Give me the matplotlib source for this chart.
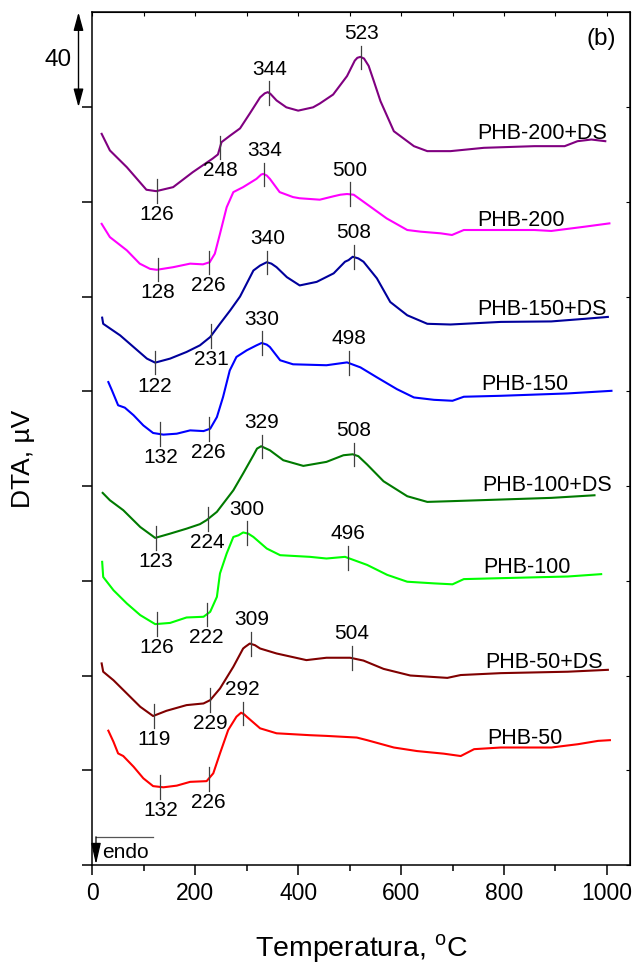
import numpy as np
import matplotlib.pyplot as plt

plt.rcParams['font.family'] = ['Liberation Sans', 'DejaVu Sans']
plt.rcParams['mathtext.fontset'] = 'custom'
plt.rcParams['mathtext.rm'] = 'Liberation Sans'

# DTA curves, temperature (C) and stacked signal (uV)
t_200ds = [18, 34, 67, 105, 124, 157, 195, 234, 244, 251, 268, 287, 306, 326, 335, 341, 346, 358, 377,
           400, 429, 442, 468, 495, 510, 515, 521, 528, 537, 547, 560, 586, 625, 651, 696, 761, 859,
           918, 943, 970, 997]
dta_200ds = [308.7, 301.7, 294.6, 285.1, 284.5, 286.2, 292.5, 298.3, 300, 305.2, 308, 311, 317.3, 324.1,
             325.8, 326.3, 325.6, 322.8, 319.9, 318.5, 319.9, 321.5, 325.3, 333.1, 339.6, 340.8, 341.2,
             340.5, 337.4, 331, 322.5, 309.8, 303.5, 301.4, 301.4, 302.8, 303.5, 303.5, 305.6, 306.3,
             305.6]

t_200 = [18, 34, 67, 92, 112, 125, 157, 190, 215, 228, 238, 248, 261, 274, 293, 319, 328, 332, 339, 345,
         364, 390, 403, 442, 468, 482, 495, 508, 540, 572, 612, 638, 677, 699, 722, 768, 859, 892, 957,
         1005]
dta_200 = [270.7, 265.1, 259.5, 253.9, 251.7, 251.3, 252.4, 253.9, 253.6, 254.5, 258.1, 266.5, 277.7,
           284.1, 286.2, 289.7, 291.5, 291.8, 291.1, 289.7, 284.1, 282, 281.5, 280.9, 282.3, 283, 283.3,
           283, 278, 273, 268.1, 267.4, 266.7, 266, 268.1, 268.1, 268.1, 267.7, 269.5, 270.9]

t_150ds = [19, 21, 54, 80, 106, 122, 151, 183, 209, 229, 248, 268, 287, 313, 326, 339, 348, 358, 378,
           403, 436, 469, 491, 498, 506, 517, 527, 553, 579, 612, 651, 696, 794, 892, 957, 1002]
dta_150ds = [231.1, 228.5, 223.6, 218.7, 213.8, 212.1, 213.8, 216.6, 219.4, 222.9, 228.5, 234.2, 240,
             251, 253.1, 254.5, 253.9, 252.4, 248.2, 244.7, 246.2, 249.8, 254.7, 255.4, 256.8, 256.1,
             254.7, 247.7, 237.7, 232.1, 228.5, 228.2, 229.3, 229.5, 230.6, 231.4]

t_150 = [31, 38, 50, 63, 80, 99, 118, 138, 164, 190, 216, 229, 242, 254, 267, 280, 300, 319, 329, 339,
         345, 365, 390, 455, 495, 521, 553, 592, 625, 664, 700, 722, 794, 924, 1009]
dta_150 = [203.9, 200.4, 194.1, 193.1, 189.9, 185.6, 182.4, 181.7, 182.1, 183.5, 183.2, 184.2, 189.1,
           197.6, 208.8, 214.5, 217.3, 219.4, 220.4, 219.7, 218.7, 213.1, 211.4, 211, 212.2, 210.1,
           205.9, 200.9, 197.4, 196.4, 196, 197.7, 198.1, 199.1, 200.2]

t_100ds = [20, 34, 60, 93, 122, 151, 183, 209, 222, 242, 274, 293, 313, 320, 328, 335, 345, 371, 410,
           455, 488, 506, 517, 534, 566, 612, 651, 696, 794, 892, 976]
dta_100ds = [157.1, 154, 149.8, 142.7, 138.1, 139.9, 142, 143.9, 145.6, 149.1, 158.2, 165.3, 173, 175.8,
             176.8, 176.1, 175.1, 170.9, 168.5, 170.2, 173, 173.4, 172.6, 169.1, 162, 155.7, 153.3,
             153.6, 154.3, 155, 156.1]

t_100 = [19, 21, 41, 67, 93, 122, 151, 183, 216, 229, 242, 248, 261, 274, 284, 293, 303, 313, 339, 365,
         423, 455, 491, 534, 573, 612, 664, 700, 722, 794, 924, 989]
dta_100 = [128, 121.6, 116, 110.4, 105.5, 101.7, 102.2, 104.5, 104.8, 106.9, 113.2, 123.1, 131.5,
           138.5, 139.2, 140.4, 139.9, 138.5, 133.6, 130.8, 130.1, 129.4, 130.1, 126.7, 122.5, 119.6,
           118.9, 118.5, 120.7, 121.1, 121.8, 122.8]

t_50ds = [18, 21, 41, 67, 93, 118, 144, 183, 216, 229, 248, 274, 293, 297, 306, 316, 326, 358, 416, 455,
          501, 527, 566, 618, 690, 716, 794, 924, 1002]
dta_50ds = [85.1, 81.6, 78, 72.4, 66.8, 62.9, 65.1, 67.5, 68.2, 69.6, 74.5, 83.7, 91.4, 92.1, 93.5,
            92.8, 91.4, 89.3, 86.5, 87.5, 87.5, 86.3, 82.8, 80, 79, 80.2, 81, 81.6, 82.4]

t_50 = [31, 41, 50, 60, 80, 99, 118, 138, 164, 190, 222, 235, 248, 264, 280, 289, 295, 300, 326, 358,
        423, 455, 514, 534, 586, 631, 683, 716, 742, 794, 892, 944, 983, 1006]
dta_50 = [56.7, 52, 47.1, 46, 41.5, 36.6, 33.3, 32.8, 33.5, 35.1, 35.4, 38.7, 47.1, 57, 62.6, 64.3,
          63.6, 62.6, 57.7, 55.6, 54.8, 54.5, 53.8, 52.7, 49.6, 48.1, 47, 46, 48.9, 49.6, 49.6, 51,
          52.4, 52.7]

names = ['PHB-200+DS', 'PHB-200', 'PHB-150+DS', 'PHB-150',
         'PHB-100+DS', 'PHB-100', 'PHB-50+DS', 'PHB-50']

# marked temperatures: (value, label side)
marks_200ds = [(126, 'down'), (248, 'down'), (344, 'up'), (523, 'up')]
marks_200 = [(128, 'down'), (226, 'down'), (334, 'up'), (500, 'up')]
marks_150ds = [(122, 'down'), (231, 'down'), (340, 'up'), (508, 'up')]
marks_150 = [(132, 'down'), (226, 'down'), (330, 'up'), (498, 'up')]
marks_100ds = [(123, 'down'), (224, 'down'), (329, 'up'), (508, 'up')]
marks_100 = [(126, 'down'), (222, 'down'), (300, 'up'), (496, 'up')]
marks_50ds = [(119, 'down'), (229, 'down'), (309, 'up'), (504, 'up')]
marks_50 = [(132, 'down'), (226, 'down'), (292, 'up')]

curves = [
    (t_200ds, dta_200ds, marks_200ds, '#800080'),
    (t_200, dta_200, marks_200, '#ff00ff'),
    (t_150ds, dta_150ds, marks_150ds, '#00009c'),
    (t_150, dta_150, marks_150, '#0000ff'),
    (t_100ds, dta_100ds, marks_100ds, '#007a00'),
    (t_100, dta_100, marks_100, '#00ff00'),
    (t_50ds, dta_50ds, marks_50ds, '#800000'),
    (t_50, dta_50, marks_50, '#ff0000'),
]

# where the curve names sit (T, DTA)
name_pos = [(748, 309), (748, 272), (748, 234.6), (755, 203),
            (757, 160.4), (760, 125.7), (763, 85.3), (767, 53.5)]

fig = plt.figure(figsize=(6.35, 9.72), dpi=100)
ax = fig.add_axes([0.1455, 0.1101, 0.8466, 0.8772])

for (t, d, marks, col), name, (nx, ny) in zip(curves, names, name_pos):
    ax.plot(t, d, color=col, lw=1.5)
    for m, side in marks:
        yc = np.interp(m, t, d)
        ax.plot([m, m], [yc - 5, yc + 5], color='#404040', lw=0.9)
        if side == 'up':
            ax.annotate(str(m), (m, yc + 5), xytext=(0, 2), textcoords='offset points',
                        ha='center', va='bottom', fontsize=15)
        else:
            ax.annotate(str(m), (m, yc - 5), xytext=(0, -1.5), textcoords='offset points',
                        ha='center', va='top', fontsize=15)
    ax.text(nx, ny, name, ha='left', va='center', fontsize=15.5)

ax.text(990, 348.7, '(b)', ha='center', va='center', fontsize=17.5)

# 40 uV scale bar
ax.annotate('', xy=(-27, 320), xytext=(-27, 360), xycoords='data', annotation_clip=False,
            arrowprops=dict(arrowstyle='<|-|>,head_length=1.1,head_width=0.3', color='black',
                            lw=1.0, mutation_scale=10, shrinkA=0, shrinkB=0))
ax.text(-67, 340, '40', ha='center', va='center', fontsize=17.5, clip_on=False)

# endo marker
ax.plot([7, 118], [11.9, 11.9], color='#555555', lw=0.9)
ax.annotate('', xy=(7, 0.3), xytext=(7, 11.9),
            arrowprops=dict(arrowstyle='-|>,head_length=1.3,head_width=0.3', color='black',
                            lw=0.9, mutation_scale=10, shrinkA=0, shrinkB=0))
ax.text(18, 5.2, 'endo', ha='left', va='center', fontsize=15)

ax.set_xlim(0, 1045)
ax.set_ylim(0, 360)
ax.set_xticks(np.arange(0, 1001, 200))
ax.set_xticks(np.arange(100, 1001, 200), minor=True)
ax.set_yticks(np.arange(0, 321, 40))
ax.set_yticklabels([])
ax.tick_params(axis='x', which='major', direction='out', length=7, width=1.1, labelsize=16.5, pad=5)
ax.tick_params(axis='x', which='minor', direction='out', length=4.5, width=1.1)
ax.tick_params(axis='y', which='major', direction='out', length=7, width=1.1)
for s in ax.spines.values():
    s.set_linewidth(1.1)

# inner ticks on top and right
top = ax.secondary_xaxis('top')
top.set_xticks(np.arange(0, 1001, 100))
top.set_xticklabels([])
top.tick_params(direction='in', length=3, width=0.8)
right = ax.secondary_yaxis('right')
right.set_yticks(np.arange(0, 321, 40))
right.set_yticklabels([])
right.tick_params(direction='in', length=3, width=0.8)

ax.set_xlabel(r'Temperatura, $^{\mathrm{o}}$C', fontsize=20.5, labelpad=20)
fig.text(23 / 635, 1 - 459 / 972, 'DTA, \u00b5V', rotation=90, ha='center', va='center', fontsize=19)

fig.savefig('out.png', dpi=100)
